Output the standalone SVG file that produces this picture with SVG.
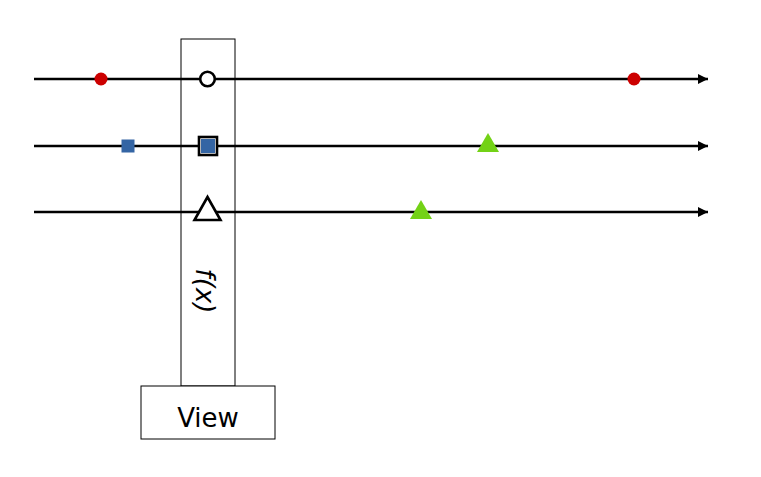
<svg xmlns="http://www.w3.org/2000/svg" width="761" height="477" viewBox="0 0 761 477">
<style>
.line{stroke:#000;stroke-width:2.5;fill:none}
.box{fill:#fff;stroke:#000;stroke-width:1}
.red{fill:#cc0000}
.blue{fill:#3465a4}
.green{fill:#73d216}
.sym{fill:#fff;stroke:#000;stroke-width:2.6}
text{font-family:"DejaVu Sans",sans-serif;fill:#000}
</style>
<defs>
<marker id="arr" markerWidth="10" markerHeight="10" refX="10" refY="5" orient="auto" markerUnits="userSpaceOnUse">
<path d="M0,0 L10,5 L0,10 Z" fill="#000"/>
</marker>
</defs>
<g id="column">
<rect class="box" x="181" y="39" width="54" height="347"/>
<text transform="translate(196,291) rotate(90)" text-anchor="middle" font-size="26" font-style="italic">f(x)</text>
</g>
<g id="connectors">
<line class="line" x1="34" y1="79" x2="708" y2="79" marker-end="url(#arr)"/>
<line class="line" x1="34" y1="146" x2="708" y2="146" marker-end="url(#arr)"/>
<line class="line" x1="34" y1="212" x2="708" y2="212" marker-end="url(#arr)"/>
</g>
<g id="view">
<rect class="box" x="141" y="386" width="134" height="53"/>
<text x="208" y="427" text-anchor="middle" font-size="26">View</text>
</g>
<g id="circle-symbol"><circle class="sym" cx="207.5" cy="79" r="7.3"/></g>
<g id="square-symbol"><rect class="sym" x="199" y="137" width="18" height="18"/><rect class="blue" x="201" y="139" width="14" height="14"/></g>
<g id="triangle-symbol"><polygon class="sym" points="207.5,197 220.5,220 194.5,220"/></g>
<g id="red1"><circle class="red" cx="101" cy="79" r="6.5"/></g>
<g id="red2"><circle class="red" cx="634" cy="79" r="6.5"/></g>
<g id="blue1"><rect class="blue" x="121.5" y="139.5" width="13" height="13"/></g>
<g id="green1"><polygon class="green" points="488,133 499,152 477,152"/></g>
<g id="green2"><polygon class="green" points="421,200 432,219 410,219"/></g>
</svg>
